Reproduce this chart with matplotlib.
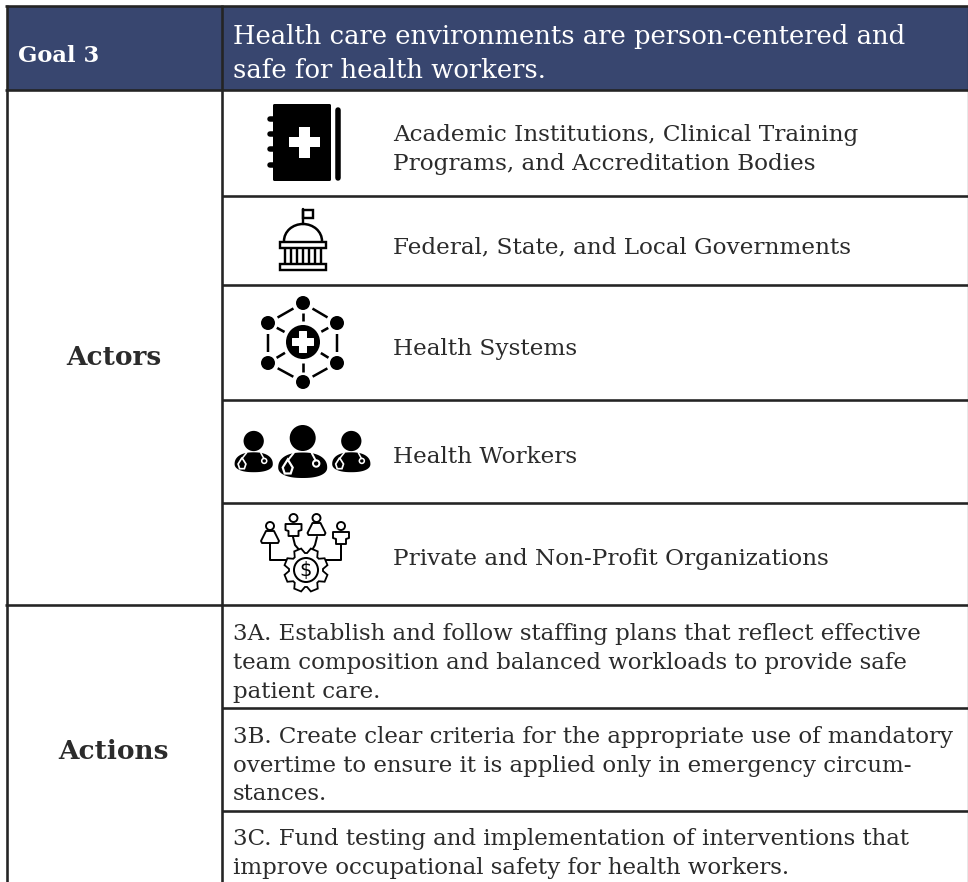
import numpy as np
import matplotlib
matplotlib.use('Agg')
import matplotlib.pyplot as plt
from matplotlib.patches import Rectangle, Circle, Polygon, FancyBboxPatch, Arc

# table content
goal_label = 'Goal 3'
goal_text = ['Health care environments are person-centered and',
             'safe for health workers.']
section_labels = ['Actors', 'Actions']
actor_lines = [['Academic Institutions, Clinical Training',
                'Programs, and Accreditation Bodies'],
               ['Federal, State, and Local Governments'],
               ['Health Systems'],
               ['Health Workers'],
               ['Private and Non-Profit Organizations']]
action_lines = [['3A. Establish and follow staffing plans that reflect effective',
                 'team composition and balanced workloads to provide safe',
                 'patient care.'],
                ['3B. Create clear criteria for the appropriate use of mandatory',
                 'overtime to ensure it is applied only in emergency circum-',
                 'stances.'],
                ['3C. Fund testing and implementation of interventions that',
                 'improve occupational safety for health workers.']]

# layout, in pixels
W, H = 968, 882
LINE = '#242424'
NAVY = '#38466F'
TEXT = '#2b2b2b'
FONT = 'DejaVu Serif'
actor_base = [[141, 170], [253], [355], [463], [565]]
action_base = [[640, 669, 698], [743, 772, 800], [845, 874]]

fig = plt.figure(figsize=(W / 100, H / 100), dpi=100)
ax = fig.add_axes([0, 0, 1, 1])
ax.set_xlim(0, W)
ax.set_ylim(H, 0)
ax.axis('off')
PX = 0.72


def seg(xs, ys, lw=2.0, color='black', cap='round'):
    ax.plot(xs, ys, color=color, lw=lw * PX, solid_capstyle=cap, solid_joinstyle='round')


# header and grid
ax.add_patch(Rectangle((7, 6), W - 7, 84, fc=NAVY, ec='none'))
for y in [6, 90, 605]:
    seg([5, W], [y, y], 2.6, LINE, 'butt')
for y in [196, 285, 400, 503, 708, 811]:
    seg([222, W], [y, y], 2.6, LINE, 'butt')
seg([7, 7], [5, H], 2.6, LINE, 'butt')
seg([222, 222], [5, H], 2.6, LINE, 'butt')
seg([967.5, 967.5], [5, H], 1.2, LINE, 'butt')

# text
ax.text(18, 62, goal_label, color='white', fontsize=16.3, fontweight='bold', family=FONT, va='baseline')
for txt, y in zip(goal_text, [44, 78]):
    ax.text(233, y, txt, color='white', fontsize=18.65, family=FONT, va='baseline')
for txt, y in zip(section_labels, [365, 759]):
    ax.text(114, y, txt, color=TEXT, fontsize=19, fontweight='bold', family=FONT, va='baseline', ha='center')
for lines, bases in zip(actor_lines, actor_base):
    for txt, y in zip(lines, bases):
        ax.text(393, y, txt, color=TEXT, fontsize=16.7, family=FONT, va='baseline')
for lines, bases in zip(action_lines, action_base):
    for txt, y in zip(lines, bases):
        ax.text(233, y, txt, color=TEXT, fontsize=16.5, family=FONT, va='baseline')


# book icon
def book():
    ax.add_patch(FancyBboxPatch((274.5, 105.5), 55, 74, boxstyle='round,pad=1.5', fc='black', ec='none'))
    ax.add_patch(Rectangle((289, 137), 31, 10, fc='white', ec='none'))
    ax.add_patch(Rectangle((299, 127), 11, 31, fc='white', ec='none'))
    seg([338, 338], [110, 178], 5.5)
    for y in [119, 134, 149, 165]:
        seg([270, 274], [y, y], 5.5)


# capitol icon
def capitol():
    ax.add_patch(Arc((303, 241), 38, 34, theta1=180, theta2=360, color='black', lw=2.5 * PX))
    seg([303, 303], [209, 224], 2.4)
    ax.add_patch(Rectangle((303, 210), 10, 8, fc='white', ec='black', lw=2.4 * PX))
    ax.add_patch(Rectangle((280, 242), 46, 6, fc='white', ec='black', lw=2.4 * PX))
    ax.add_patch(Rectangle((280, 264), 46, 6, fc='white', ec='black', lw=2.4 * PX))
    for x in [285, 291, 297, 303, 309, 315, 321]:
        seg([x, x], [249, 263], 2.4, cap='butt')


# network icon
def network():
    cx, cy = 303, 342
    nodes = [(303, 303), (337, 323), (337, 363), (303, 382), (268, 363), (268, 323)]
    for i, (x, y) in enumerate(nodes):
        nx, ny = nodes[(i + 1) % 6]
        a = np.array([x, y], float)
        b = np.array([nx, ny], float)
        u = (b - a) / np.linalg.norm(b - a)
        p, q = a + u * 11, b - u * 11
        seg([p[0], q[0]], [p[1], q[1]], 2.5, cap='butt')
        c = np.array([cx, cy], float)
        u = (c - a) / np.linalg.norm(c - a)
        p, q = a + u * 10, c - u * 21
        seg([p[0], q[0]], [p[1], q[1]], 2.6, cap='butt')
        ax.add_patch(Circle((x, y), 7, fc='black', ec='none'))
    ax.add_patch(Circle((cx, cy), 17, fc='black', ec='none'))
    ax.add_patch(FancyBboxPatch((cx - 10.5, cy - 3.5), 21, 7, boxstyle='round,pad=0.5', fc='white', ec='none'))
    ax.add_patch(FancyBboxPatch((cx - 3.5, cy - 10.5), 7, 21, boxstyle='round,pad=0.5', fc='white', ec='none'))


# doctor icon, sx scales the figure
def doctor(x, y, sx):
    ax.add_patch(Circle((x, y), 13 * sx, fc='black', ec='none'))
    top = y + 14.5 * sx
    t = np.linspace(0, 2 * np.pi, 80)
    # rounded shoulders, flatter belly
    c, s = np.cos(t), np.sin(t)
    bx = x + 24.5 * sx * np.sign(c) * np.abs(c) ** 0.85
    by = top + 15 * sx + np.where(s < 0, 15 * sx, 10.5 * sx) * np.sign(s) * np.abs(s) ** 0.9
    ax.add_patch(Polygon(np.c_[bx, by], fc='black', ec='none'))
    # stethoscope
    seg([x - 9 * sx, x - 15 * sx], [top + 0.5 * sx, top + 8 * sx], 2 * sx, 'white')
    seg([x + 9 * sx, x + 13 * sx], [top + 0.5 * sx, top + 8 * sx], 2 * sx, 'white')
    ax.add_patch(Polygon([(x - 15 * sx, top + 7 * sx), (x - 10 * sx, top + 15 * sx), (x - 12 * sx, top + 21 * sx),
                          (x - 18 * sx, top + 21 * sx), (x - 20 * sx, top + 15 * sx)],
                         fc='black', ec='white', lw=2.2 * sx * PX))
    ax.add_patch(Circle((x + 13.5 * sx, top + 11 * sx), 3.2 * sx, fc='black', ec='white', lw=2 * sx * PX))


# organization icon with gear in the middle
def org():
    cx, cy = 306, 570
    angles = np.linspace(0, 2 * np.pi, 8, endpoint=False) + np.pi / 8
    pts = []
    for a in angles:
        for da, r in [(-0.33, 17), (-0.17, 22), (0.17, 22), (0.33, 17)]:
            pts.append((cx + r * np.cos(a + da), cy + r * np.sin(a + da)))
    ax.add_patch(Polygon(pts, fc='white', ec='black', lw=1.8 * PX, zorder=3))
    ax.add_patch(Circle((cx, cy), 12, fc='white', ec='black', lw=2 * PX, zorder=4))
    ax.text(cx, cy + 0.5, '$', fontsize=14, family='DejaVu Sans', ha='center', va='center', zorder=5,
            parse_math=False, color='black')
    seg([270, 270, 289], [542, 560, 560], 2)
    seg([341, 341, 323], [542, 560, 560], 2)
    seg([293, 295, 301], [537, 545, 552], 2)
    seg([317, 315, 311], [537, 545, 552], 2)
    for x, y, shield in [(270, 526, False), (293.5, 518, True), (316.5, 518, False), (341, 526, True)]:
        ax.add_patch(Circle((x, y), 4, fc='white', ec='black', lw=1.9 * PX, zorder=4))
        if shield:
            shape = [(x - 8, y + 6), (x + 8, y + 6), (x + 8, y + 12), (x + 5, y + 13), (x + 5, y + 18),
                     (x - 5, y + 18), (x - 5, y + 13), (x - 8, y + 12)]
        else:
            shape = [(x - 4, y + 5), (x + 4, y + 5), (x + 9, y + 15), (x + 8, y + 17), (x - 8, y + 17), (x - 9, y + 15)]
        ax.add_patch(Polygon(shape, fc='white', ec='black', lw=1.9 * PX, zorder=4, joinstyle='round'))


book()
capitol()
network()
doctor(253.7, 441, 0.78)
doctor(302.7, 438, 1.0)
doctor(351.3, 441, 0.78)
org()

fig.savefig('out.png', dpi=100)
